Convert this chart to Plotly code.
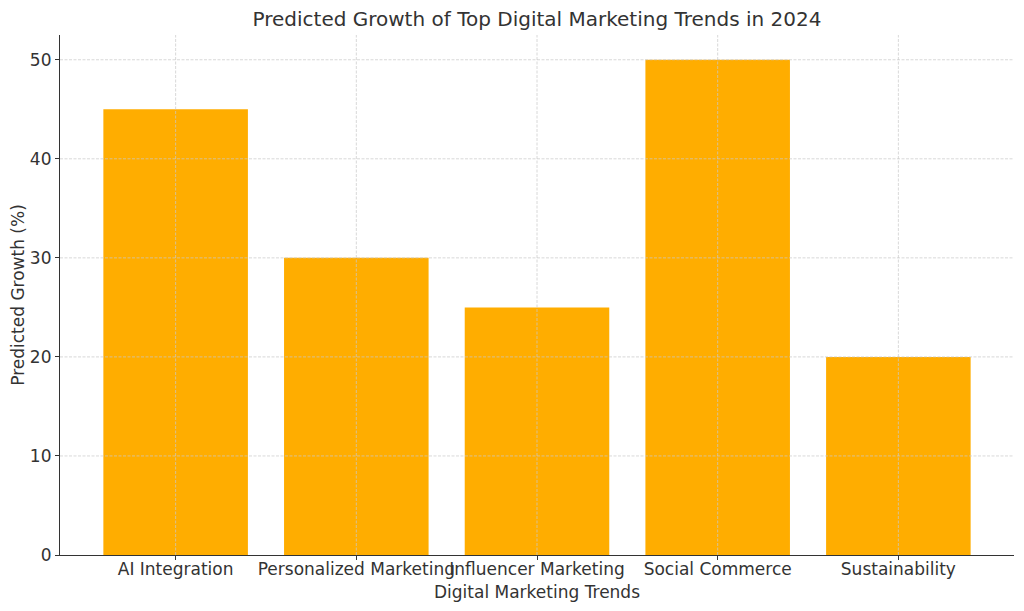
import plotly.graph_objects as go

categories = ["AI Integration", "Personalized Marketing", "Influencer Marketing", "Social Commerce", "Sustainability"]
growth = [45, 30, 25, 50, 20]
y_ticks = [0, 10, 20, 30, 40, 50]

bar_color = "#FFAD00"
text_color = "#333333"
font_family = "DejaVu Sans, sans-serif"
grid_color = "rgba(200,200,200,0.9)"

fig = go.Figure()
fig.add_trace(go.Bar(x=categories, y=growth, marker=dict(color=bar_color, line=dict(width=0)), width=0.8))

shapes = []
for t in y_ticks[1:]:
    shapes.append(dict(type="line", xref="paper", yref="y", x0=0, x1=1, y0=t, y1=t,
                       line=dict(color=grid_color, width=0.8, dash="3px,1.5px"), layer="above"))
for c in categories:
    shapes.append(dict(type="line", xref="x", yref="paper", x0=c, x1=c, y0=0, y1=1,
                       line=dict(color=grid_color, width=0.8, dash="3px,1.5px"), layer="above"))

fig.update_layout(
    width=1024, height=611,
    margin=dict(l=60, r=10, t=35, b=56),
    paper_bgcolor="white", plot_bgcolor="white",
    font=dict(family=font_family, size=17, color=text_color),
    title=dict(text="Predicted Growth of Top Digital Marketing Trends in 2024",
               x=537 / 1024, xanchor="center", y=1 - 19 / 611, yanchor="middle", yref="container",
               font=dict(size=20, color=text_color)),
    shapes=shapes,
    showlegend=False,
    bargap=0.2,
)
fig.update_xaxes(
    range=[-0.64, 4.64], showgrid=False, showline=True, linecolor="#333333", linewidth=1.2,
    ticks="outside", ticklen=4, tickcolor="#333333", tickwidth=1, tickangle=0, automargin=False,
    ticklabelstandoff=-6,
    title=dict(text="Digital Marketing Trends", standoff=8, font=dict(size=17)),
    tickfont=dict(size=17), zeroline=False,
)
fig.update_yaxes(
    range=[0, 52.5], tickvals=y_ticks, showgrid=False, showline=True, linecolor="#333333", linewidth=1.2,
    ticks="outside", ticklen=4, tickcolor="#333333", tickwidth=1, automargin=False,
    title=dict(text="Predicted Growth (%)", standoff=0, font=dict(size=17)),
    tickfont=dict(size=17), zeroline=False,
)

fig.write_html("out.html")
